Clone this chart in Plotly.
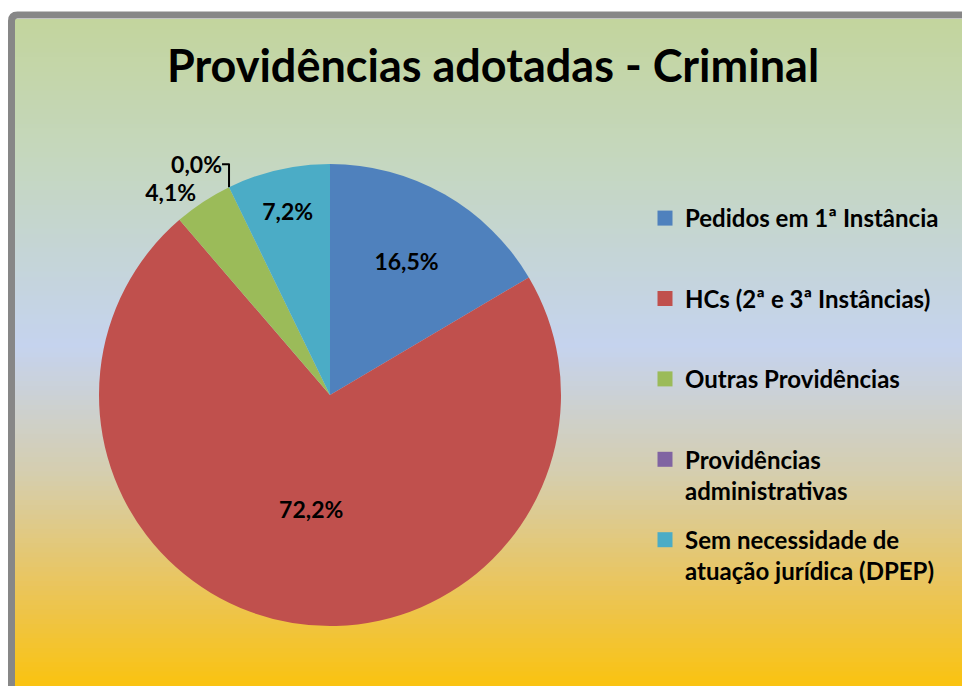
import plotly.graph_objects as go

# ---- data ----
categories = [
    "Pedidos em 1ª Instância",
    "HCs (2ª e 3ª Instâncias)",
    "Outras Providências",
    "Providências administrativas",
    "Sem necessidade de atuação jurídica (DPEP)",
]
legend_labels = [
    "Pedidos em 1ª Instância",
    "HCs (2ª e 3ª Instâncias)",
    "Outras Providências",
    "Providências<br>administrativas",
    "Sem necessidade de<br>atuação jurídica (DPEP)",
]
values = [16.5, 72.2, 4.1, 0.0, 7.2]
colors = ["#4F81BD", "#C0504D", "#9BBB59", "#8064A2", "#4BACC6"]
text_positions = ["inside", "inside", "outside", "outside", "inside"]
title_text = "Providências adotadas - Criminal"

W, H = 962, 686
FONT = "Lato"

fig = go.Figure()

# ---- background gradient (style only) ----
stops = [
    (0.00, (195, 213, 157)),
    (0.22, (197, 215, 192)),
    (0.49, (197, 211, 238)),
    (0.68, (213, 206, 175)),
    (0.85, (234, 197, 92)),
    (1.00, (250, 195, 16)),
]

def interp(t):
    for (t0, c0), (t1, c1) in zip(stops[:-1], stops[1:]):
        if t0 <= t <= t1:
            f = (t - t0) / (t1 - t0) if t1 > t0 else 0
            return tuple(int(round(a + (b - a) * f)) for a, b in zip(c0, c1))
    return stops[-1][1]

top_px, bot_px, left_px = 19, H, 15
n = 140
step = (bot_px - top_px) / n
shapes = []
for i in range(n):
    y0 = top_px + i * step
    y1 = y0 + step + 0.8
    c = interp((i + 0.5) / n)
    shapes.append(dict(
        type="rect", xref="paper", yref="paper",
        x0=left_px / W, x1=1.01, y0=1 - y1 / H, y1=1 - y0 / H,
        fillcolor="rgb(%d,%d,%d)" % c, line=dict(width=0), layer="below",
    ))
# gray frame (rounded top-left corner)
r = 6
x0, y0 = 11.5, 15
path = (f"M {x0/W},{1-(y0+r)/H} "
        f"Q {x0/W},{1-y0/H} {(x0+r)/W},{1-y0/H} L {1.02},{1-y0/H}")
shapes.append(dict(type="path", xref="paper", yref="paper", path=path,
                   line=dict(color="#878787", width=7), layer="below"))
path2 = f"M {x0/W},{1-(y0+r)/H} L {x0/W},{-0.05}"
shapes.append(dict(type="path", xref="paper", yref="paper", path=path2,
                   line=dict(color="#878787", width=7), layer="below"))

# ---- pie ----
cx, cy, rad = 330, 395, 231
fig.add_trace(go.Pie(
    labels=categories,
    values=values,
    sort=False,
    direction="clockwise",
    rotation=0,
    marker=dict(colors=colors, line=dict(width=0)),
    texttemplate="%{percent:.1%}",
    textposition=text_positions,
    insidetextorientation="horizontal",
    textfont=dict(family=FONT, size=23, color="black", weight="bold"),
    outsidetextfont=dict(family=FONT, size=23, color="black", weight="bold"),
    showlegend=False,
    domain=dict(x=[(cx - rad) / W, (cx + rad) / W],
                y=[1 - (cy + rad) / H, 1 - (cy - rad) / H]),
    hoverinfo="label+percent",
))

# ---- legend entries ----
for i, (lab, col) in enumerate(zip(legend_labels, colors)):
    name = lab if "<br>" in lab else lab + "<br> "
    fig.add_trace(go.Scatter(
        x=[None], y=[None], mode="markers", name=name,
        marker=dict(symbol="square", size=15, color=col),
        legendgroup=f"g{i}", showlegend=True, hoverinfo="skip",
    ))

fig.update_layout(
    width=W, height=H,
    margin=dict(l=0, r=0, t=0, b=0),
    paper_bgcolor="white",
    plot_bgcolor="rgba(0,0,0,0)",
    separators=",.",
    shapes=shapes,
    xaxis=dict(visible=False), yaxis=dict(visible=False),
    title=dict(text=title_text, x=493 / W, xanchor="center",
               y=1 - 66 / H, yanchor="middle",
               font=dict(family=FONT, size=45, color="black", weight="bold")),
    legend=dict(
        x=645 / W, xanchor="left", y=1 - 196 / H, yanchor="top",
        bgcolor="rgba(0,0,0,0)", borderwidth=0,
        font=dict(family=FONT, size=24, color="black", weight="bold"),
        tracegroupgap=15, valign="top", itemsizing="trace",
        itemclick=False, itemdoubleclick=False,
    ),
)

fig.write_html(
    "out.html",
    config={"displayModeBar": False},
    post_script="document.body.style.margin='0';document.body.style.overflow='hidden';",
)
